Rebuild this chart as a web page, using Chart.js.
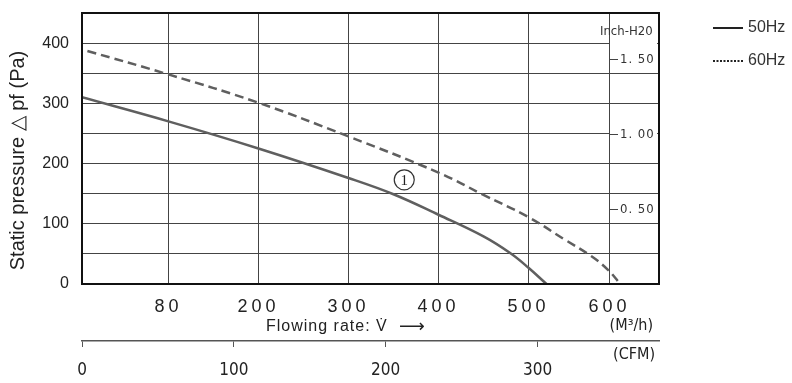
<!DOCTYPE html>
<html>
<head>
<meta charset="utf-8">
<script src="https://cdn.jsdelivr.net/npm/chart.js@4.4.1/dist/chart.umd.min.js"></script>
<style>
  html, body { margin: 0; padding: 0; background: #fff; }
  #wrap { width: 792px; height: 383px; }
</style>
</head>
<body>
<div id="wrap"><canvas id="fanChart"></canvas></div>
<script>
// Fan curves: flow in M3/h, static pressure in Pa
const flow50 = [4, 100, 200, 300, 350, 400, 450, 480, 500, 520];
const pres50 = [310, 270, 225, 176, 149, 115, 79, 51, 27, 0];
const flow60 = [10, 100, 200, 300, 400, 450, 500, 540, 570, 588, 602];
const pres60 = [387, 348, 301, 245, 185, 148, 111, 74, 46, 24, 0];

// axis ticks as printed on the sheet
const xGridValues = [100, 200, 300, 400, 500, 590];
const xTickLabels = ['80', '200', '300', '400', '500', '600'];
const inchValues = [1.5, 1.0, 0.5];
const inchLabels = ['1. 50', '1. 00', '0. 50'];
const seriesNames = ['50Hz', '60Hz'];
const curveMarker = [362, 173];

const PA_PER_INCH = 249.09;
const narrow = "'Liberation Sans Narrow', 'DejaVu Sans Condensed', 'Liberation Sans', sans-serif";
const sans = "'Liberation Sans', Arial, sans-serif";

const toPoints = (xs, ys) => xs.map((x, i) => ({ x: x, y: ys[i] }));

// extra text, frame, inch scale and legend
const extrasPlugin = {
  id: 'extras',
  afterDatasetsDraw(chart) {
    // wide spaced M3/h tick labels (x ticks are drawn on a later layer)
    chart.ctx.letterSpacing = '4px';
  },
  afterDraw(chart) {
    const ctx = chart.ctx;
    ctx.letterSpacing = '0px';
    const { left, top, right, bottom } = chart.chartArea;
    const xs = chart.scales.x;
    const ys = chart.scales.y;
    ctx.save();

    // outer frame
    ctx.strokeStyle = '#111';
    ctx.lineWidth = 2;
    ctx.strokeRect(left, top, right - left, bottom - top);

    // y title
    ctx.save();
    ctx.translate(18, (top + bottom) / 2 + 12);
    ctx.rotate(-Math.PI / 2);
    ctx.fillStyle = '#222';
    ctx.font = '20px ' + sans;
    ctx.textAlign = 'center';
    ctx.textBaseline = 'middle';
    ctx.fillText('Static pressure \u25b3 pf (Pa)', 0, 0);
    ctx.restore();

    // inch H2O scale inside the plot
    const gx = Math.round(xs.getPixelForValue(xGridValues[xGridValues.length - 1]));
    ctx.fillStyle = '#fff';
    ctx.fillRect(gx + 1, top + 7, right - gx - 3, 26);
    ctx.fillStyle = '#333';
    ctx.font = '13px ' + narrow;
    ctx.textBaseline = 'middle';
    ctx.textAlign = 'left';
    ctx.fillText('Inch-H20', gx - 9, top + 19);
    inchValues.forEach((v, i) => {
      const py = Math.round(ys.getPixelForValue(v * PA_PER_INCH)) + 0.5;
      ctx.fillStyle = '#fff';
      ctx.fillRect(gx + 1, py - 8, right - gx - 3, 16);
      ctx.strokeStyle = '#444';
      ctx.lineWidth = 1;
      ctx.beginPath();
      ctx.moveTo(gx, py);
      ctx.lineTo(gx + 9, py);
      ctx.stroke();
      ctx.fillStyle = '#333';
      ctx.letterSpacing = '1px';
      ctx.fillText(inchLabels[i], gx + 11, py);
      ctx.letterSpacing = '0px';
    });

    // curve number
    const mx = xs.getPixelForValue(curveMarker[0]);
    const my = ys.getPixelForValue(curveMarker[1]);
    ctx.strokeStyle = '#333';
    ctx.lineWidth = 1.2;
    ctx.beginPath();
    ctx.arc(mx, my, 10, 0, Math.PI * 2);
    ctx.stroke();
    ctx.fillStyle = '#222';
    ctx.font = '15px "Liberation Serif", serif';
    ctx.textAlign = 'center';
    ctx.fillText('1', mx, my + 1);

    // axis captions under the plot
    ctx.textAlign = 'left';
    ctx.fillStyle = '#222';
    ctx.font = '16px ' + sans;
    ctx.letterSpacing = '1px';
    ctx.fillText('Flowing rate: V\u0307', left + 184, bottom + 43);
    ctx.letterSpacing = '0px';
    ctx.font = '18px "DejaVu Sans", sans-serif';
    ctx.fillText('\u27f6', left + 317, bottom + 43);
    ctx.textAlign = 'right';
    ctx.font = '16px ' + narrow;
    ctx.fillText('(M\u00b3/h)', right - 6, bottom + 42);
    ctx.fillText('(CFM)', right - 4, bottom + 71);

    // legend
    const lx = right + 54;
    ctx.strokeStyle = '#222';
    ctx.lineWidth = 2;
    [28, 61].forEach((ly, i) => {
      ctx.setLineDash(i === 0 ? [] : [2, 1.5]);
      ctx.beginPath();
      ctx.moveTo(lx, ly);
      ctx.lineTo(lx + 30, ly);
      ctx.stroke();
      ctx.setLineDash([]);
      ctx.fillStyle = '#333';
      ctx.textAlign = 'left';
      ctx.font = '16px ' + sans;
      ctx.fillText(seriesNames[i], lx + 35, ly);
    });
    ctx.restore();
  }
};

new Chart(document.getElementById('fanChart'), {
  type: 'line',
  data: {
    datasets: [
      {
        label: seriesNames[0],
        data: toPoints(flow50, pres50),
        borderColor: '#5f5f5f',
        borderWidth: 2.5,
        pointRadius: 0,
        tension: 0.4,
        xAxisID: 'x'
      },
      {
        label: seriesNames[1],
        data: toPoints(flow60, pres60),
        borderColor: '#5f5f5f',
        borderWidth: 2.5,
        borderDash: [9, 5],
        pointRadius: 0,
        tension: 0.4,
        xAxisID: 'x'
      }
    ]
  },
  options: {
    responsive: true,
    maintainAspectRatio: false,
    animation: false,
    layout: { padding: { top: 13, right: 133, left: 0, bottom: 0 } },
    scales: {
      x: {
        type: 'linear',
        position: 'bottom',
        min: 4,
        max: 645,
        afterFit: (s) => { s.height = 57; },
        afterBuildTicks: (s) => { s.ticks = xGridValues.map(v => ({ value: v })); },
        ticks: {
          z: 1,
          padding: 12,
          color: '#222',
          font: { family: sans, size: 18 },
          maxRotation: 0,
          callback: (value, index) => xTickLabels[index]
        },
        grid: { color: '#444', lineWidth: 1, drawTicks: false },
        border: { color: '#111', width: 2 }
      },
      cfm: {
        type: 'linear',
        position: 'bottom',
        min: 0,
        max: 380,
        afterFit: (s) => { s.height = 42; },
        ticks: {
          stepSize: 100,
          includeBounds: false,
          padding: 13,
          color: '#222',
          font: { family: narrow, size: 17 },
          maxRotation: 0
        },
        grid: { drawOnChartArea: false, drawTicks: true, tickLength: 6, color: '#555' },
        border: { display: true, color: '#555', width: 1.5 }
      },
      y: {
        min: 0,
        max: 450,
        afterFit: (s) => { s.width = 82; s.paddingTop = 0; s.paddingBottom = 0; },
        ticks: {
          stepSize: 50,
          padding: 13,
          color: '#222',
          font: { family: sans, size: 16 },
          callback: (value) => (value % 100 === 0 ? value : '')
        },
        grid: { color: '#444', lineWidth: 1, drawTicks: false },
        border: { color: '#111', width: 2 }
      }
    },
    plugins: {
      legend: { display: false },
      tooltip: { enabled: false }
    }
  },
  plugins: [extrasPlugin]
});
</script>
</body>
</html>
